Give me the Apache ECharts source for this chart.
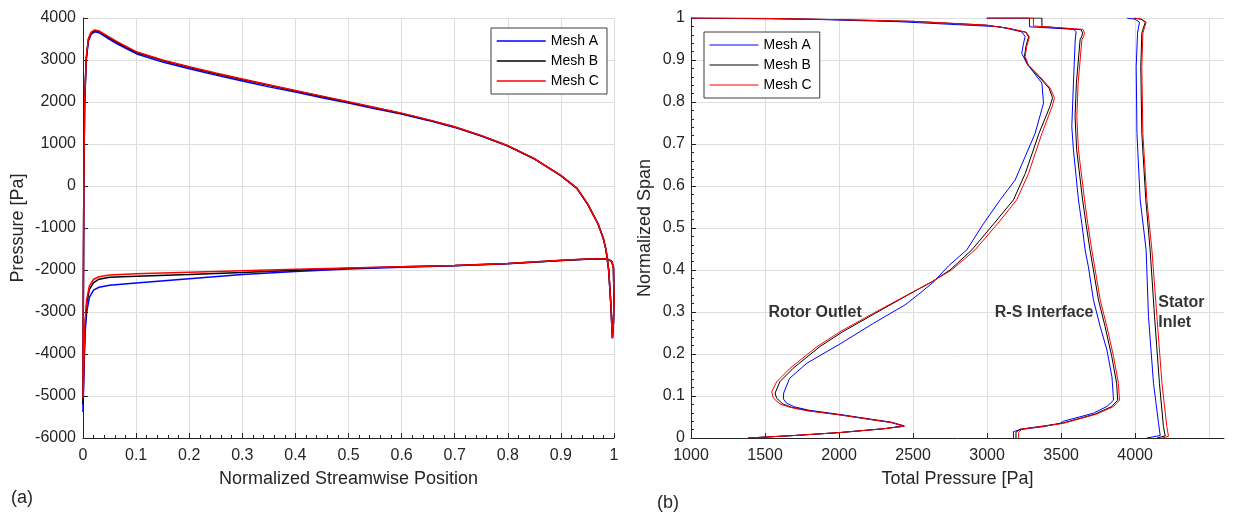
<!DOCTYPE html>
<html>
<head>
<meta charset="utf-8">
<script src="https://cdn.jsdelivr.net/npm/echarts@6/dist/echarts.min.js"></script>
<style>
html, body { margin: 0; padding: 0; background: #ffffff; }
#chart { width: 1236px; height: 517px; }
</style>
</head>
<body>
<div id="chart"></div>
<script>
// ---- (a) blade loading: pressure side (LE -> TE) and suction side (LE -> TE) ----
const psX = [0, 0.0005, 0.0015, 0.003, 0.006, 0.01, 0.015, 0.022, 0.03, 0.045, 0.065, 0.1, 0.15, 0.2, 0.25, 0.3, 0.35, 0.4, 0.45, 0.5, 0.55, 0.6, 0.65, 0.7, 0.75, 0.8, 0.85, 0.9, 0.93, 0.95, 0.97, 0.98, 0.985, 0.99, 0.994, 0.997];
const psMeshA = [-5380, -3200, -100, 1900, 2980, 3440, 3610, 3670, 3650, 3530, 3380, 3150, 2950, 2790, 2640, 2500, 2360, 2235, 2100, 1975, 1840, 1712, 1562, 1395, 1190, 953, 645, 245, -55, -425, -905, -1255, -1525, -2005, -2805, -3625];
const psMeshB = [-5200, -3100, -50, 1950, 3020, 3480, 3645, 3700, 3680, 3565, 3415, 3185, 2985, 2825, 2675, 2535, 2398, 2263, 2130, 1995, 1862, 1728, 1574, 1405, 1196, 957, 648, 248, -52, -422, -902, -1252, -1522, -2002, -2802, -3622];
const psMeshC = [-5050, -3000, 0, 2000, 3050, 3500, 3660, 3715, 3690, 3580, 3430, 3200, 3000, 2840, 2690, 2550, 2410, 2275, 2140, 2005, 1870, 1735, 1580, 1410, 1200, 960, 650, 250, -50, -420, -900, -1250, -1520, -2000, -2800, -3620];

const ssX = [0, 0.002, 0.004, 0.007, 0.012, 0.02, 0.03, 0.05, 0.1, 0.2, 0.3, 0.4, 0.5, 0.6, 0.7, 0.8, 0.9, 0.95, 0.98, 0.99, 0.996, 0.999, 1.0, 0.999, 0.997];
const ssMeshA = [-5380, -4300, -3500, -3000, -2650, -2480, -2410, -2365, -2310, -2210, -2110, -2035, -1978, -1935, -1897, -1850, -1773, -1743, -1741, -1753, -1803, -1953, -2704, -3254, -3625];
const ssMeshB = [-5200, -4100, -3300, -2800, -2460, -2300, -2220, -2170, -2150, -2110, -2060, -2005, -1960, -1925, -1893, -1847, -1771, -1741, -1739, -1751, -1801, -1951, -2702, -3252, -3622];
const ssMeshC = [-5050, -4000, -3200, -2700, -2380, -2220, -2160, -2120, -2090, -2055, -2020, -1985, -1950, -1920, -1890, -1845, -1770, -1740, -1738, -1750, -1800, -1950, -2700, -3250, -3620];

// ---- (b) spanwise total pressure, [total pressure, normalized span] ----
const rotorMeshA = [[1390,0],[1700,0.006],[2007,0.013],[2300,0.022],[2440,0.029],[2446,0.032],[2350,0.038],[2232,0.044],[2007,0.056],[1800,0.066],[1700,0.074],[1645,0.083],[1624,0.093],[1626,0.107],[1666,0.142],[1782,0.178],[2007,0.224],[2232,0.273],[2446,0.317],[2547,0.345],[2640,0.372],[2740,0.41],[2863,0.448],[2975,0.51],[3088,0.567],[3189,0.614],[3324,0.725],[3381,0.797],[3370,0.845],[3268,0.892],[3234,0.916],[3246,0.94],[3257,0.956],[3234,0.967],[3088,0.979],[2412,0.991],[1800,0.997],[1000,1.0]];
const rotorMeshB = [[1385,0],[1700,0.006],[2007,0.013],[2300,0.022],[2440,0.028],[2446,0.031],[2350,0.037],[2232,0.043],[2007,0.055],[1790,0.065],[1680,0.073],[1620,0.081],[1578,0.095],[1568,0.107],[1600,0.134],[1690,0.166],[1868,0.217],[2025,0.253],[2245,0.297],[2462,0.34],[2628,0.372],[2750,0.40],[2897,0.448],[3045,0.51],[3178,0.567],[3258,0.63],[3350,0.725],[3425,0.79],[3442,0.81],[3418,0.833],[3350,0.86],[3275,0.888],[3252,0.908],[3262,0.932],[3280,0.955],[3262,0.966],[3150,0.975],[2995,0.983],[2500,0.992],[2007,0.996],[1500,0.999],[1000,1.0]];
const rotorMeshC = [[1385,0],[1700,0.006],[2007,0.013],[2300,0.022],[2440,0.028],[2446,0.031],[2350,0.037],[2232,0.043],[2007,0.055],[1782,0.065],[1669,0.073],[1601,0.081],[1556,0.095],[1545,0.11],[1579,0.134],[1669,0.166],[1849,0.217],[2007,0.253],[2232,0.297],[2457,0.34],[2626,0.372],[2760,0.40],[2919,0.448],[3070,0.51],[3200,0.567],[3280,0.63],[3370,0.725],[3440,0.79],[3455,0.81],[3426,0.833],[3358,0.86],[3279,0.888],[3257,0.908],[3268,0.932],[3285,0.955],[3265,0.966],[3150,0.975],[2995,0.983],[2500,0.992],[2007,0.996],[1500,0.999],[1000,1.0]];

const interfaceMeshA = [[3178,0],[3178,0.015],[3190,0.018],[3223,0.02],[3380,0.027],[3493,0.035],[3516,0.04],[3718,0.059],[3809,0.075],[3854,0.09],[3843,0.146],[3809,0.21],[3764,0.265],[3718,0.329],[3684,0.408],[3662,0.448],[3640,0.51],[3617,0.567],[3583,0.686],[3572,0.741],[3583,0.845],[3595,0.948],[3601,0.967],[3585,0.973],[3286,0.979],[3286,1.0],[2995,1.0]];
const interfaceMeshB = [[3195,0],[3195,0.014],[3205,0.018],[3225,0.021],[3390,0.029],[3505,0.035],[3730,0.057],[3842,0.075],[3882,0.09],[3875,0.13],[3842,0.194],[3797,0.265],[3752,0.329],[3718,0.40],[3695,0.448],[3668,0.51],[3645,0.567],[3605,0.686],[3594,0.765],[3603,0.845],[3628,0.948],[3640,0.957],[3645,0.964],[3635,0.972],[3370,0.98],[3370,1.0],[3000,1.0]];
const interfaceMeshC = [[3213,0],[3213,0.013],[3222,0.017],[3234,0.021],[3400,0.029],[3516,0.035],[3741,0.057],[3854,0.075],[3894,0.09],[3887,0.13],[3854,0.194],[3809,0.265],[3764,0.329],[3730,0.40],[3707,0.448],[3680,0.51],[3658,0.567],[3617,0.686],[3606,0.765],[3615,0.845],[3640,0.948],[3651,0.956],[3658,0.964],[3647,0.973],[3313,0.981],[3313,1.0],[3000,1.0]];

const statorMeshA = [[4079,0],[4169,0.006],[4158,0.035],[4124,0.13],[4090,0.289],[4074,0.448],[4034,0.567],[4012,0.725],[4007,0.884],[4016,0.964],[4029,0.99],[4000,0.997],[3944,1.0]];
const statorMeshB = [[4147,0],[4203,0.005],[4191,0.027],[4164,0.13],[4131,0.289],[4101,0.448],[4072,0.567],[4045,0.725],[4038,0.884],[4045,0.964],[4068,0.99],[4040,0.997],[3989,1.0]];
const statorMeshC = [[4181,0],[4225,0.004],[4214,0.027],[4181,0.13],[4147,0.289],[4113,0.448],[4079,0.567],[4052,0.725],[4045,0.884],[4052,0.964],[4074,0.99],[4045,0.997],[3995,1.0]];

// station labels: [total pressure, span, text]
const stationLabels = [[1838, 0.298, 'Rotor Outlet'], [3385, 0.298, 'R-S Interface']];
const statorLabel = [[4156, 0.298, 'Stator\nInlet']];

const meshNames = ['Mesh A', 'Mesh B', 'Mesh C'];
const meshColors = ['#0000ff', '#000000', '#ff0000'];

const FONT = 'Liberation Sans, Arial, Helvetica, sans-serif';
const INK = '#262626';
const GRID_COLOR = '#dedede';

// closed loop: pressure side LE->TE, then suction side back TE->LE
function bladeLoop(ps, ss) {
  const a = psX.map((x, i) => [x, ps[i]]);
  const b = ssX.map((x, i) => [x, ss[i]]).reverse();
  return a.concat(b);
}
const bladeLoops = [bladeLoop(psMeshA, ssMeshA), bladeLoop(psMeshB, ssMeshB), bladeLoop(psMeshC, ssMeshC)];
const spanCurves = [
  [rotorMeshA, interfaceMeshA, statorMeshA],
  [rotorMeshB, interfaceMeshB, statorMeshB],
  [rotorMeshC, interfaceMeshC, statorMeshC]
];

const plainNumber = v => String(+(+v).toFixed(4));

function tickLabel(margin, extra) {
  return Object.assign({ show: true, color: INK, fontSize: 16, fontFamily: FONT, margin: margin, formatter: plainNumber }, extra || {});
}

function baseAxis(extra) {
  return Object.assign({
    type: 'value',
    axisLine: { show: true, onZero: false, lineStyle: { color: INK, width: 1 } },
    axisTick: { show: true, inside: true, length: 5, lineStyle: { color: INK, width: 1 } },
    splitLine: { show: true, lineStyle: { color: GRID_COLOR, width: 1 } },
    nameLocation: 'middle',
    nameTextStyle: { color: INK, fontSize: 18, fontFamily: FONT }
  }, extra);
}

const series = [];
bladeLoops.forEach((d, i) => {
  series.push({
    name: meshNames[i], type: 'line', xAxisIndex: 0, yAxisIndex: 0,
    data: d, symbol: 'none', showSymbol: false,
    lineStyle: { color: meshColors[i], width: 1.5 }, itemStyle: { color: meshColors[i] },
    silent: true, z: 2 + i
  });
});
spanCurves.forEach((curves, i) => {
  curves.forEach(d => {
    series.push({
      name: meshNames[i], type: 'line', xAxisIndex: 1, yAxisIndex: 1,
      data: d, symbol: 'none', showSymbol: false,
      lineStyle: { color: meshColors[i], width: 1 }, itemStyle: { color: meshColors[i] },
      silent: true, z: 2 + i
    });
  });
});
series.push({
  type: 'scatter', xAxisIndex: 1, yAxisIndex: 1, symbolSize: 0, silent: true, z: 10,
  data: stationLabels.map(s => ({ value: [s[0], s[1]], text: s[2] })),
  label: { show: true, position: 'inside', formatter: p => p.data.text,
           color: '#000', fontSize: 16, fontWeight: 'bold', fontFamily: FONT }
});
series.push({
  type: 'scatter', xAxisIndex: 1, yAxisIndex: 1, symbolSize: 0, silent: true, z: 10,
  data: statorLabel.map(s => ({ value: [s[0], s[1]], text: s[2] })),
  label: { show: true, position: 'right', distance: 0, formatter: p => p.data.text,
           color: '#000', fontSize: 16, fontWeight: 'bold', fontFamily: FONT, lineHeight: 20, align: 'left' }
});

// legend entries show only the line sample (marker hidden)
function legendBox(id, left, top, lineWidth) {
  return {
    id: id, show: true, type: 'plain',
    data: meshNames.slice(), orient: 'vertical', left: left, top: top,
    itemWidth: 49, itemHeight: 14, itemGap: 6,
    padding: [6, 8, 6, 5],
    backgroundColor: '#ffffff', borderColor: '#3c3c3c', borderWidth: 1,
    lineStyle: { width: lineWidth },
    itemStyle: { opacity: 0, borderWidth: 0 },
    textStyle: { color: '#000', fontSize: 14, fontFamily: FONT },
    selectedMode: false
  };
}

const rightSplitColors = [GRID_COLOR, GRID_COLOR, GRID_COLOR, GRID_COLOR, GRID_COLOR, GRID_COLOR, GRID_COLOR, GRID_COLOR, 'rgba(0,0,0,0)'];

const option = {
  animation: false,
  backgroundColor: '#ffffff',
  grid: [
    { left: 83, top: 18, width: 531, height: 420, containLabel: false, outerBoundsMode: 'none' },
    { left: 691, top: 18, width: 533, height: 420, containLabel: false, outerBoundsMode: 'none' }
  ],
  legend: [legendBox('legendA', 491, 28, 1.5), legendBox('legendB', 704, 32, 1)],
  xAxis: [
    baseAxis({ gridIndex: 0, min: 0, max: 1, interval: 0.1,
      name: 'Normalized Streamwise Position', nameGap: 32,
      minorTick: { show: true, splitNumber: 5, length: 3, lineStyle: { color: INK } },
      axisLabel: tickLabel(10) }),
    baseAxis({ gridIndex: 1, min: 1000, max: 4600, interval: 500,
      name: 'Total Pressure [Pa]', nameGap: 32,
      axisTick: { show: true, inside: true, length: 5, lineStyle: { color: INK },
                  customValues: [1000, 1500, 2000, 2500, 3000, 3500, 4000, 4500] },
      axisLabel: tickLabel(10, { showMaxLabel: false,
                  customValues: [1000, 1500, 2000, 2500, 3000, 3500, 4000, 4500] }),
      splitLine: { show: true, lineStyle: { color: rightSplitColors, width: 1 } } })
  ],
  yAxis: [
    baseAxis({ gridIndex: 0, min: -6000, max: 4000, interval: 1000,
      name: 'Pressure [Pa]', nameGap: 56,
      axisLabel: tickLabel(7) }),
    baseAxis({ gridIndex: 1, min: 0, max: 1, interval: 0.1,
      name: 'Normalized Span', nameGap: 37,
      minorTick: { show: true, splitNumber: 5, length: 3, lineStyle: { color: INK } },
      axisLabel: tickLabel(6) })
  ],
  graphic: [
    { type: 'text', left: 11, top: 489, style: { text: '(a)', fill: INK, fontSize: 18, fontFamily: FONT } },
    { type: 'text', left: 657, top: 494, style: { text: '(b)', fill: INK, fontSize: 18, fontFamily: FONT } }
  ],
  series: series
};

const chart = echarts.init(document.getElementById('chart'), null, { renderer: 'canvas' });
chart.setOption(option);
</script>
</body>
</html>
